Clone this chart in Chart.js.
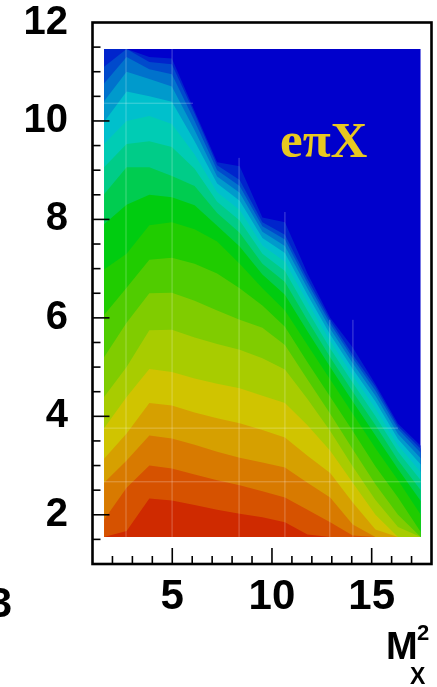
<!DOCTYPE html>
<html>
<head>
<meta charset="utf-8">
<script src="https://cdn.jsdelivr.net/npm/chart.js@4.4.1/dist/chart.umd.min.js"></script>
<style>
  html, body { margin: 0; padding: 0; background: #ffffff; }
  canvas { display: block; }
</style>
</head>
<body>
<canvas id="contour" width="437" height="687"></canvas>
<script>
// M_X^2 grid columns of the contour table
const xNodes = [1.58, 2.71, 3.85, 4.98, 6.12, 7.25, 8.38, 9.52, 10.65, 11.78, 12.92, 14.05, 15.19, 16.32, 17.46];

// contour lines, lowest level (red edge) first; one value per column
const L1  = [1.55, 1.67, 2.33, 2.29, 2.2, 2.1, 2.02, 1.95, 1.85, 1.6, 1.55, 1.55, 1.55, 1.55, 1.55];
const L2  = [1.9, 2.55, 3.0, 2.94, 2.82, 2.7, 2.6, 2.48, 2.35, 2.1, 1.85, 1.58, 1.55, 1.55, 1.55];
const L3  = [2.65, 3.1, 3.61, 3.55, 3.42, 3.28, 3.16, 3.06, 2.96, 2.65, 2.35, 1.8, 1.55, 1.55, 1.55];
const L4  = [3.14, 3.65, 4.27, 4.22, 4.08, 3.96, 3.86, 3.72, 3.57, 3.2, 2.85, 2.25, 1.7, 1.55, 1.55];
const L5  = [3.76, 4.39, 4.96, 4.9, 4.77, 4.66, 4.57, 4.42, 4.27, 3.82, 3.3, 2.65, 2.0, 1.55, 1.55];
const L6  = [4.39, 5.0, 5.75, 5.76, 5.6, 5.47, 5.35, 5.18, 4.95, 4.35, 3.7, 2.98, 2.3, 1.75, 1.55];
const L7  = [5.2, 5.9, 6.5, 6.51, 6.35, 6.15, 5.96, 5.8, 5.45, 4.75, 4.05, 3.33, 2.62, 2.0, 1.55];
const L8  = [6.06, 6.61, 7.18, 7.22, 7.1, 6.9, 6.6, 6.25, 5.82, 5.1, 4.4, 3.7, 2.98, 2.35, 1.65];
const L9  = [6.98, 7.3, 7.88, 7.94, 7.8, 7.55, 7.1, 6.6, 6.15, 5.45, 4.75, 4.05, 3.35, 2.7, 2.0];
const L10 = [7.9, 8.3, 8.5, 8.45, 8.29, 7.87, 7.45, 6.88, 6.47, 5.73, 5.0, 4.3, 3.61, 2.93, 2.28];
const L11 = [8.51, 9.06, 9.06, 8.88, 8.68, 8.13, 7.73, 7.1, 6.73, 5.95, 5.2, 4.5, 3.82, 3.11, 2.5];
const L12 = [9.06, 9.53, 9.59, 9.47, 9.03, 8.36, 7.98, 7.3, 6.95, 6.15, 5.38, 4.68, 4.0, 3.28, 2.7];
const L13 = [9.53, 10.0, 10.1, 9.94, 9.32, 8.55, 8.19, 7.47, 7.14, 6.32, 5.53, 4.83, 4.16, 3.41, 2.87];
const L14 = [9.98, 10.6, 10.5, 10.39, 9.59, 8.73, 8.38, 7.62, 7.32, 6.47, 5.66, 4.96, 4.3, 3.54, 3.02];
const L15 = [10.4, 11.0, 10.85, 10.7, 9.81, 8.87, 8.54, 7.75, 7.46, 6.6, 5.78, 5.08, 4.42, 3.64, 3.15];
const L16 = [10.76, 11.3, 11.05, 10.95, 10.0, 9.0, 8.68, 7.86, 7.59, 6.71, 5.88, 5.18, 4.52, 3.74, 3.26];
const L17 = [11.1, 11.46, 11.2, 11.15, 10.15, 9.1, 8.8, 7.94, 7.69, 6.79, 5.95, 5.25, 4.6, 3.8, 3.34];
const L18 = [11.46, 11.46, 11.3, 11.27, 10.2, 9.16, 9.08, 8.04, 7.94, 6.9, 6.0, 5.4, 4.65, 3.85, 3.4];
const contourLines = [L1, L2, L3, L4, L5, L6, L7, L8, L9, L10, L11, L12, L13, L14, L15, L16, L17, L18];

// colour of the band lying just under each contour line
const bandColors = [
    '#CF2A00', '#D65200', '#D87A00', '#D6A000', '#D0C400', '#A8CC00',
    '#80CC00', '#50CC00', '#20CC00', '#00CC10', '#00CC50', '#00CC88',
    '#00CCB4', '#00C0CC', '#009ACC', '#0072CC', '#004ACC', '#0024CC'
];
const emptyColor = '#0000CC';

// histogram box and the faint bin lines drawn over it
const boxX = [1.58, 17.46];
const boxY = [1.55, 11.46];
const vLineX   = [2.68, 4.99, 8.35, 10.65, 12.9, 14.06];
const vLineTop = [11.46, 11.46, 9.25, 8.15, 5.96, 5.96];
const hLineY   = [10.36, 3.76, 2.67];
const hLineEnd = [6.04, 16.32, 17.46];

const xTickVals = [5, 10, 15];
const yTickVals = [2, 4, 6, 8, 10, 12];

const datasets = [];

contourLines.forEach((ys, i) => {
    datasets.push({
        data: xNodes.map((x, j) => ({ x: x, y: ys[j] })),
        backgroundColor: bandColors[i],
        borderWidth: 0,
        pointRadius: 0,
        fill: { value: boxY[0] },
        order: i + 1
    });
});

datasets.push({
    data: [{ x: boxX[0], y: boxY[1] }, { x: boxX[1], y: boxY[1] }],
    backgroundColor: emptyColor,
    borderWidth: 0,
    pointRadius: 0,
    fill: { value: boxY[0] },
    order: 100
});

const faint = 'rgba(255,255,255,0.28)';
vLineX.forEach((x, i) => {
    datasets.push({
        data: [{ x: x, y: boxY[0] }, { x: x, y: vLineTop[i] }],
        borderColor: faint, borderWidth: 1, pointRadius: 0, fill: false, order: 0
    });
});
hLineY.forEach((y, i) => {
    datasets.push({
        data: [{ x: boxX[0], y: y }, { x: hLineEnd[i], y: y }],
        borderColor: faint, borderWidth: 1, pointRadius: 0, fill: false, order: 0
    });
});

const labelFont = '"Liberation Sans", Arial, sans-serif';

// frame, inward ticks and the labels that are not tick labels
const framePlugin = {
    id: 'frame',
    afterDraw(chart) {
        const { ctx, chartArea: a, scales: { x, y } } = chart;
        ctx.save();
        ctx.strokeStyle = '#000';
        ctx.lineWidth = 1.6;
        for (let v = 1.5; v < 12; v += 0.5) {
            const py = y.getPixelForValue(v);
            const len = (v % 2 === 0) ? 17 : 8;
            ctx.beginPath(); ctx.moveTo(a.left, py); ctx.lineTo(a.left + len, py); ctx.stroke();
        }
        for (let v = 2; v < 18; v += 1) {
            const px = x.getPixelForValue(v);
            const len = (v % 5 === 0) ? 16 : 8;
            ctx.beginPath(); ctx.moveTo(px, a.bottom); ctx.lineTo(px, a.bottom - len); ctx.stroke();
        }
        ctx.lineWidth = 2.6;
        ctx.strokeRect(a.left, a.top, a.right - a.left, a.bottom - a.top);

        ctx.fillStyle = '#E8C820';
        ctx.font = 'bold 51px "Liberation Serif", serif';
        ctx.textBaseline = 'alphabetic';
        ctx.textAlign = 'left';
        ctx.fillText('e\u03C0X', 280, 157);

        ctx.fillStyle = '#000';
        ctx.font = 'bold 38px ' + labelFont;
        ctx.fillText('M', 386, 659);
        ctx.font = 'bold 22px ' + labelFont;
        ctx.fillText('2', 417, 640);
        ctx.font = 'bold 23px ' + labelFont;
        ctx.fillText('X', 410, 684);

        ctx.font = 'bold 42px ' + labelFont;
        ctx.textAlign = 'right';
        ctx.fillText('3', 12, 617);
        ctx.restore();
    }
};

new Chart(document.getElementById('contour'), {
    type: 'line',
    data: { datasets: datasets },
    options: {
        responsive: false,
        animation: false,
        events: [],
        layout: { padding: { left: 0, top: 22.5, right: 5.5, bottom: 0 } },
        plugins: { legend: { display: false }, tooltip: { enabled: false } },
        elements: { line: { tension: 0 } },
        scales: {
            x: {
                type: 'linear', min: 1, max: 18,
                grid: { display: false, drawTicks: false },
                border: { display: false },
                afterBuildTicks: (s) => { s.ticks = xTickVals.map(v => ({ value: v })); },
                afterFit: (s) => {
                    s.height = 123;
                    s.paddingLeft = 0; s.paddingRight = 0; s.paddingTop = 0; s.paddingBottom = 0;
                },
                ticks: {
                    color: '#000', padding: 12, maxRotation: 0, autoSkip: false,
                    font: { family: labelFont, size: 42, weight: 'bold', lineHeight: 1 }
                }
            },
            y: {
                type: 'linear', min: 1, max: 12,
                grid: { display: false, drawTicks: false },
                border: { display: false },
                afterBuildTicks: (s) => { s.ticks = yTickVals.map(v => ({ value: v })); },
                afterFit: (s) => {
                    s.width = 92.5;
                    s.paddingLeft = 0; s.paddingRight = 0; s.paddingTop = 0; s.paddingBottom = 0;
                },
                ticks: {
                    color: '#000', padding: 24.5, autoSkip: false,
                    font: { family: labelFont, size: 40, weight: 'bold', lineHeight: 1 }
                }
            }
        }
    },
    plugins: [framePlugin]
});
</script>
</body>
</html>
